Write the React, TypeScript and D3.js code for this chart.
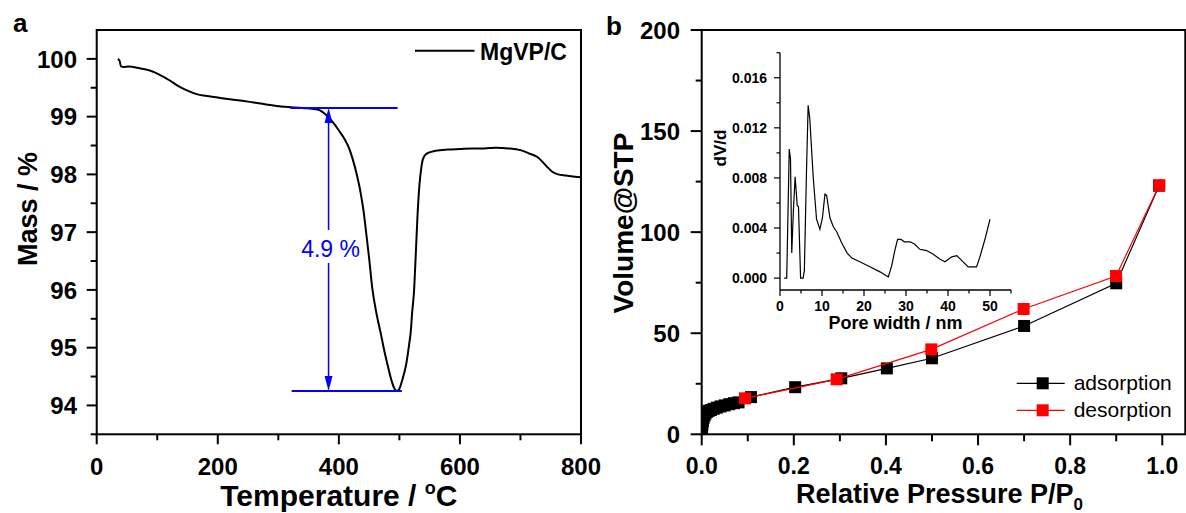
import React from "react";
import * as d3 from "d3";

const FONT = "'Liberation Sans', Arial, Helvetica, sans-serif";

// ---------- Panel a: TGA ----------
const tgaTemp = [35, 38, 40, 45, 52, 60, 75, 90, 105, 120, 135, 150, 165, 180, 200, 220, 250, 280, 310, 340, 366, 380, 391, 400, 410, 417, 423, 430, 436, 441, 445, 450, 455, 462, 469, 475, 481, 487, 492, 496, 500, 505, 511, 516, 519, 521, 524, 527, 530, 533, 536, 539, 545, 560, 580, 600, 620, 640, 660, 680, 700, 715, 728, 738, 745, 752, 762, 775, 790, 800];
const tgaMass = [100.0, 99.96, 99.87, 99.86, 99.87, 99.86, 99.83, 99.79, 99.72, 99.63, 99.53, 99.45, 99.39, 99.36, 99.33, 99.3, 99.26, 99.21, 99.17, 99.15, 99.12, 99.02, 98.89, 98.76, 98.6, 98.45, 98.26, 97.98, 97.68, 97.35, 97.0, 96.55, 96.05, 95.6, 95.26, 94.95, 94.68, 94.43, 94.29, 94.25, 94.29, 94.45, 94.7, 95.05, 95.3, 95.6, 95.95, 96.6, 97.3, 97.8, 98.1, 98.27, 98.36, 98.41, 98.43, 98.44, 98.45, 98.45, 98.46, 98.45, 98.42, 98.36, 98.3, 98.2, 98.12, 98.05, 98.0, 97.98, 97.96, 97.95];
const massTicks = [94, 95, 96, 97, 98, 99, 100];
const massMinor = [93.5, 94.5, 95.5, 96.5, 97.5, 98.5, 99.5];
const tempTicks = [0, 200, 400, 600, 800];
const tempMinor = [100, 300, 500, 700];
const tgaLegend = "MgVP/C";
// step annotation (data units)
const stepTopMass = 99.15;
const stepBottomMass = 94.25;
const stepTopT = [320, 497];
const stepBottomT = [322, 504];
const stepArrowT = 383;
const stepLabel = "4.9 %";
const stepLabelMass = 96.57;

// ---------- Panel b: isotherm ----------
const adsP = [0.0008, 0.0015, 0.0025, 0.004, 0.006, 0.008, 0.011, 0.015, 0.02, 0.026, 0.033, 0.041, 0.05, 0.06, 0.07, 0.08, 0.107, 0.203, 0.303, 0.402, 0.5, 0.7, 0.9, 0.993];
const adsV = [2.5, 4.8, 6.5, 8.0, 9.3, 10.2, 11.0, 11.6, 12.0, 12.6, 13.2, 13.8, 14.3, 14.9, 15.4, 15.8, 18.4, 23.3, 27.7, 32.6, 37.6, 53.6, 74.7, 123.0];
const desP = [0.094, 0.293, 0.4985, 0.699, 0.8996, 0.9935];
const desV = [17.8, 27.2, 42.0, 62.0, 78.3, 123.2];
const pTicks = [0, 0.2, 0.4, 0.6, 0.8, 1.0];
const pMinor = [0.1, 0.3, 0.5, 0.7, 0.9];
const vTicks = [0, 50, 100, 150, 200];
const vMinor = [25, 75, 125, 175];
const seriesNames = ["adsorption", "desorption"];

// ---------- Inset: pore size distribution ----------
const poreW = [1.0, 1.6, 2.2, 2.5, 2.8, 3.2, 3.6, 3.8, 4.1, 4.4, 4.9, 5.5, 5.8, 6.3, 6.7, 7.1, 7.9, 8.7, 9.5, 10.1, 10.7, 11.1, 11.9, 12.7, 13.5, 14.7, 16.0, 17.1, 19.0, 21.4, 23.8, 25.2, 25.8, 26.6, 27.4, 28.0, 28.8, 29.6, 30.2, 31.0, 32.1, 33.3, 34.9, 36.5, 38.1, 39.3, 40.9, 42.1, 43.3, 44.8, 46.0, 46.8, 47.6, 48.8, 50.0];
const poreDV = [0.0, 0.0, 0.0103, 0.0095, 0.002, 0.0055, 0.0081, 0.0072, 0.0058, 0.0057, 0.0, 0.0, 0.0006, 0.0084, 0.0138, 0.0127, 0.0081, 0.0047, 0.0039, 0.0048, 0.0067, 0.0066, 0.0048, 0.0041, 0.0037, 0.0028, 0.002, 0.0016, 0.0013, 0.0009, 0.0005, 0.0002, 0.0001, 0.001, 0.0023, 0.0031, 0.0031, 0.0029, 0.0029, 0.0029, 0.0027, 0.0023, 0.0022, 0.0019, 0.0015, 0.0013, 0.0017, 0.0018, 0.0014, 0.0009, 0.0009, 0.0009, 0.0017, 0.0031, 0.0047];
const insetYTicks = [0, 0.004, 0.008, 0.012, 0.016];
const insetYMinor = [0.002, 0.006, 0.01, 0.014, 0.018];
const insetXTicks = [0, 10, 20, 30, 40, 50];
const insetXMinor = [5, 15, 25, 35, 45, 55];

type Scale = d3.ScaleLinear<number, number>;

function XTicks({ s, y, major, minor, lenMaj, lenMin, sw, fs, labelY, fmt }: any) {
  return (
    <g>
      {major.map((v: number) => (
        <g key={"M" + v}>
          <line x1={s(v)} x2={s(v)} y1={y} y2={y + lenMaj} stroke="#000" strokeWidth={sw} />
          <text x={s(v)} y={labelY} textAnchor="middle" fontSize={fs} fontWeight="bold" fontFamily={FONT}>
            {fmt(v)}
          </text>
        </g>
      ))}
      {minor.map((v: number) => (
        <line key={"m" + v} x1={s(v)} x2={s(v)} y1={y} y2={y + lenMin} stroke="#000" strokeWidth={sw} />
      ))}
    </g>
  );
}

function YTicks({ s, x, major, minor, lenMaj, lenMin, sw, fs, labelX, fmt }: any) {
  return (
    <g>
      {major.map((v: number) => (
        <g key={"M" + v}>
          <line x1={x} x2={x - lenMaj} y1={s(v)} y2={s(v)} stroke="#000" strokeWidth={sw} />
          <text x={labelX} y={s(v) + fs * 0.36} textAnchor="end" fontSize={fs} fontWeight="bold" fontFamily={FONT}>
            {fmt(v)}
          </text>
        </g>
      ))}
      {minor.map((v: number) => (
        <line key={"m" + v} x1={x} x2={x - lenMin} y1={s(v)} y2={s(v)} stroke="#000" strokeWidth={sw} />
      ))}
    </g>
  );
}

export default function App() {
  // Panel a frame
  const aL = 96.7, aR = 581, aT = 30, aB = 434.3;
  const xA: Scale = d3.scaleLinear().domain([0, 800]).range([aL, aR]);
  const yA: Scale = d3.scaleLinear().domain([93.5, 100.5]).range([aB, aT]);
  const tgaLine = d3
    .line<number>()
    .x((_, i) => xA(tgaTemp[i]))
    .y((_, i) => yA(tgaMass[i]))
    .curve(d3.curveMonotoneX)(tgaMass as any) as string;

  // Panel b frame
  const bL = 701.7, bR = 1185.3, bT = 30, bB = 434.3;
  const xB: Scale = d3.scaleLinear().domain([0, 1.05]).range([bL, bR]);
  const yB: Scale = d3.scaleLinear().domain([0, 200]).range([bB, bT]);
  const adsLine = d3.line<number>().x((_, i) => xB(adsP[i])).y((_, i) => yB(adsV[i]))(adsV as any) as string;
  const desLine = d3.line<number>().x((_, i) => xB(desP[i])).y((_, i) => yB(desV[i]))(desV as any) as string;

  // Inset frame
  const iL = 780, iR = 1011, iT = 52.7, iB = 290;
  const xI: Scale = d3.scaleLinear().domain([0, 55]).range([iL, iR]);
  const yI: Scale = d3.scaleLinear().domain([-0.00095, 0.018]).range([iB, iT]);
  const poreLine = d3.line<number>().x((_, i) => xI(poreW[i])).y((_, i) => yI(poreDV[i]))(poreDV as any) as string;

  const blue = "#0000FF";
  const sq = 12;
  const ax = xA(stepArrowT);
  const yTop = yA(stepTopMass);
  const yBot = yA(stepBottomMass);
  const labY = yA(stepLabelMass);

  const legX = 1016.7;
  const legY = [383.3, 410.3];
  const legColors = ["#000", "#FF0000"];

  return (
    <svg
      width={1186}
      height={513}
      style={{ position: "absolute", left: 0, top: 0, background: "#fff" }}
      fontFamily={FONT}
    >
      <rect x={0} y={0} width={1186} height={513} fill="#fff" />
      <defs>
        <clipPath id="clipB">
          <rect x={bL} y={bT} width={bR - bL} height={bB - bT} />
        </clipPath>
      </defs>

      {/* ===== Panel a ===== */}
      <text x={13} y={32} fontSize={26} fontWeight="bold">a</text>
      <path d={tgaLine} fill="none" stroke="#000" strokeWidth={2} />
      {/* step annotation */}
      <line x1={xA(stepTopT[0])} x2={xA(stepTopT[1])} y1={yTop} y2={yTop} stroke={blue} strokeWidth={2} />
      <line x1={xA(stepBottomT[0])} x2={xA(stepBottomT[1])} y1={yBot} y2={yBot} stroke={blue} strokeWidth={2} />
      <line x1={ax} x2={ax} y1={labY - 27} y2={yTop + 10} stroke={blue} strokeWidth={1.5} />
      <polygon points={`${ax},${yTop} ${ax - 4},${yTop + 15} ${ax + 4},${yTop + 15}`} fill={blue} />
      <line x1={ax} x2={ax} y1={labY + 6} y2={yBot - 10} stroke={blue} strokeWidth={1.5} />
      <polygon points={`${ax},${yBot} ${ax - 4},${yBot - 15} ${ax + 4},${yBot - 15}`} fill={blue} />
      <text x={ax + 2} y={labY} textAnchor="middle" fontSize={23} fill={blue}>{stepLabel}</text>
      {/* legend */}
      <line x1={415} x2={474.5} y1={50.7} y2={50.7} stroke="#000" strokeWidth={2} />
      <text x={480} y={60} fontSize={23} fontWeight="bold">{tgaLegend}</text>
      {/* axes */}
      <rect x={aL} y={aT} width={aR - aL} height={aB - aT} fill="none" stroke="#000" strokeWidth={2} />
      <XTicks s={xA} y={aB} major={tempTicks} minor={tempMinor} lenMaj={10} lenMin={6} sw={2} fs={24} labelY={475} fmt={(v: number) => String(v)} />
      <YTicks s={yA} x={aL} major={massTicks} minor={massMinor} lenMaj={10} lenMin={6} sw={2} fs={24} labelX={77} fmt={(v: number) => String(v)} />
      <text x={(aL + aR) / 2} y={506} textAnchor="middle" fontSize={30} fontWeight="bold">
        Temperature / <tspan fontSize={18} dy={-12}>o</tspan><tspan dy={12}>C</tspan>
      </text>
      <text transform={`translate(37,209) rotate(-90)`} textAnchor="middle" fontSize={27} fontWeight="bold">Mass / %</text>

      {/* ===== Panel b ===== */}
      <text x={606} y={35} fontSize={26} fontWeight="bold">b</text>
      <g clipPath="url(#clipB)">
        <path d={adsLine} fill="none" stroke="#000" strokeWidth={1.2} />
        {adsP.map((p, i) => (
          <rect key={"a" + i} x={xB(p) - sq / 2} y={yB(adsV[i]) - sq / 2} width={sq} height={sq} fill="#000" />
        ))}
        <path d={desLine} fill="none" stroke="#FF0000" strokeWidth={1.2} />
        {desP.map((p, i) => (
          <rect key={"d" + i} x={xB(p) - sq / 2} y={yB(desV[i]) - sq / 2} width={sq} height={sq} fill="#FF0000" />
        ))}
      </g>
      {/* legend */}
      {seriesNames.map((n, i) => (
        <g key={n}>
          <line x1={legX} x2={legX + 48} y1={legY[i]} y2={legY[i]} stroke={legColors[i]} strokeWidth={1.3} />
          <rect x={legX + 26 - sq / 2} y={legY[i] - sq / 2} width={sq} height={sq} fill={legColors[i]} />
          <text x={legX + 57} y={legY[i] + 7} fontSize={21}>{n}</text>
        </g>
      ))}
      {/* axes */}
      <rect x={bL} y={bT} width={bR - bL} height={bB - bT} fill="none" stroke="#000" strokeWidth={2} />
      <XTicks s={xB} y={bB} major={pTicks} minor={pMinor} lenMaj={11} lenMin={7} sw={2} fs={23} labelY={474} fmt={(v: number) => v.toFixed(1)} />
      <YTicks s={yB} x={bL} major={vTicks} minor={vMinor} lenMaj={11} lenMin={6} sw={2} fs={24} labelX={680} fmt={(v: number) => String(v)} />
      <text x={(bL + bR) / 2 - 4} y={503} textAnchor="middle" fontSize={27} fontWeight="bold">
        Relative Pressure P/P<tspan fontSize={17} dy={7}>0</tspan>
      </text>
      <text transform={`translate(633,223) rotate(-90)`} textAnchor="middle" fontSize={28} fontWeight="bold">Volume@STP</text>

      {/* ===== Inset ===== */}
      <path d={poreLine} fill="none" stroke="#000" strokeWidth={1.2} />
      <line x1={iL} x2={iL} y1={iT} y2={iB} stroke="#000" strokeWidth={1.3} />
      <line x1={iL} x2={iR} y1={iB} y2={iB} stroke="#000" strokeWidth={1.3} />
      <XTicks s={xI} y={iB} major={insetXTicks} minor={insetXMinor} lenMaj={6} lenMin={3.5} sw={1.2} fs={14} labelY={311} fmt={(v: number) => String(v)} />
      <YTicks s={yI} x={iL} major={insetYTicks} minor={insetYMinor} lenMaj={6} lenMin={3.5} sw={1.2} fs={14} labelX={767} fmt={(v: number) => v.toFixed(3)} />
      <text x={(iL + iR) / 2} y={329} textAnchor="middle" fontSize={18} fontWeight="bold">Pore width / nm</text>
      <text transform={`translate(726,148) rotate(-90)`} textAnchor="middle" fontSize={17} fontWeight="bold">dV/d</text>
    </svg>
  );
}
